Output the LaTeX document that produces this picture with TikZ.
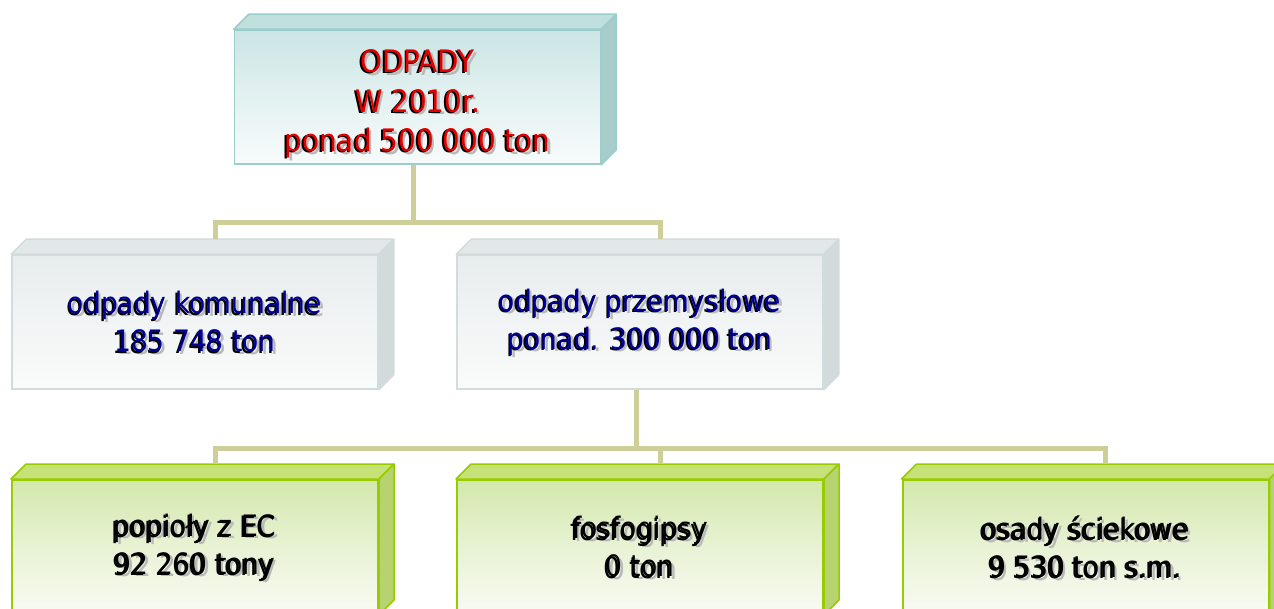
\documentclass[tikz,border=0pt]{standalone}
\usepackage{fontspec}
\setmainfont{DejaVu Sans Condensed}
\usetikzlibrary{positioning,calc}

\definecolor{cynL}{RGB}{153,206,204}
\definecolor{cynF}{RGB}{203,228,228}
\definecolor{cynB}{RGB}{247,251,251}
\definecolor{cynT}{RGB}{192,224,222}
\definecolor{cynS}{RGB}{168,204,202}
\definecolor{gryL}{RGB}{211,220,220}
\definecolor{gryF}{RGB}{231,236,236}
\definecolor{gryB}{RGB}{250,251,251}
\definecolor{gryT}{RGB}{226,232,232}
\definecolor{gryS}{RGB}{210,218,218}
\definecolor{grnL}{RGB}{153,204,0}
\definecolor{grnF}{RGB}{211,232,172}
\definecolor{grnB}{RGB}{249,251,244}
\definecolor{grnT}{RGB}{197,225,120}
\definecolor{grnS}{RGB}{182,211,112}
\definecolor{linkc}{RGB}{206,206,153}
\definecolor{txtred}{RGB}{225,0,0}
\definecolor{txtblue}{RGB}{0,0,150}

% three layers of text: soft shadow, dark edge, colour
\newcommand\boxtext[4][]{%
  \node[txt,#1,text=gray!55] at ([xshift=2.5pt,yshift=-2.5pt]#2.center) {#4};
  \node[txt,#1,text=black] at ([xshift=-1.8pt,yshift=-1.2pt]#2.center) {#4};
  \node[txt,#1,text=#3] (#2-text) at (#2.center) {#4};}

\begin{document}
\begin{tikzpicture}[x=1pt,y=-1pt]
	\tikzset{
	    front/.style={rectangle,minimum width=366pt,minimum height=134pt,inner sep=0pt,line width=1.5pt,
	    	draw=#1L,top color=#1F,bottom color=#1B,middle color=#1F!45!#1B},
	    txt/.style={align=center,font=\fontsize{29.5}{38}\selectfont},
	    link/.style={draw=linkc,line width=5pt}
	}
	\useasboundingbox (0,0) rectangle (1274,609);

	\node[front=cyn] (top) at (417.5,97) {};
	\node[front=gry] (ml) at (195,322) {};
	\node[front=gry] (mr) at (640,322) {};
	\node[front=grn,line width=2pt] (b1) at (195,547) {};
	\node[front=grn,line width=2pt] (b2) at (640,547) {};
	\node[front=grn,line width=2pt] (b3) at (1085.5,547) {};

	\foreach \n/\c in {top/cyn,ml/gry,mr/gry,b1/grn,b2/grn,b3/grn}{
		\filldraw[fill=\c T,draw=\c L,line width=1.5pt,line join=round] (\n.north west) -- ++(15,-15)
			-- ([xshift=15pt,yshift=15pt]\n.north east) -- (\n.north east) -- cycle;
		\filldraw[fill=\c S,draw=\c L,line width=1.5pt,line join=round] (\n.north east) -- ++(15,-15)
			-- ([xshift=15pt,yshift=15pt]\n.south east) -- (\n.south east) -- cycle;
	}

	\boxtext[yshift=-7pt,font=\fontsize{31}{39.5}\selectfont]{top}{txtred}{ODPADY\\W 2010r.\\ponad 500 000 ton}
	\boxtext{ml}{txtblue}{odpady komunalne\\185 748 ton}
	\boxtext{mr}{txtblue}{odpady przemysłowe\\ponad. 300 000 ton}
	\boxtext{b1}{black}{popioły z EC\\92 260 tony}
	\boxtext{b2}{black}{fosfogipsy\\0 ton}
	\boxtext{b3}{black}{osady ściekowe\\9 530 ton s.m.}

	\draw[link] ([xshift=-4pt]top.south) -- ++(0,58) -| ([xshift=20pt,yshift=15pt]ml.north);
	\draw[link] ([xshift=-4pt]top.south) -- ++(0,58) -| ([xshift=20pt,yshift=15pt]mr.north);
	\draw[link] ([xshift=-4pt]mr.south) -- ++(0,59) -| ([xshift=20pt,yshift=15pt]b1.north);
	\draw[link] ([xshift=-4pt]mr.south) -- ++(0,59) -| ([xshift=20pt,yshift=15pt]b2.north);
	\draw[link] ([xshift=-4pt]mr.south) -- ++(0,59) -| ([xshift=20pt,yshift=15pt]b3.north);
\end{tikzpicture}
\end{document}
